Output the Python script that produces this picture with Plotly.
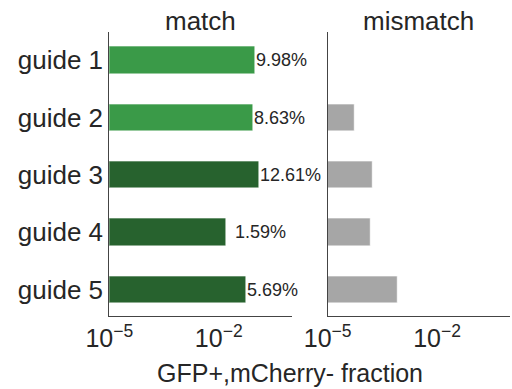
import math
import plotly.graph_objects as go

# Data
guides = ["guide 1", "guide 2", "guide 3", "guide 4", "guide 5"]
match_frac = [0.0998, 0.0863, 0.1261, 0.0159, 0.0569]
mismatch_frac = [None, 5.4e-5, 1.7e-4, 1.5e-4, 8.5e-4]
match_colors = ["#3a9a48", "#3a9a48", "#27622e", "#27622e", "#27622e"]
mismatch_color = "#a6a6a6"
label_shift = [-1, -1, -1, 7, -1]

W, H = 512, 389
FONT = "Liberation Sans, Arial, sans-serif"
TXT = "#262626"
ypos = list(range(len(guides)))

fig = go.Figure()
fig.add_trace(go.Bar(
    x=match_frac, y=ypos, orientation="h", width=0.48,
    marker=dict(color=match_colors, line=dict(color="white", width=0.8)),
    xaxis="x", yaxis="y", showlegend=False,
))
fig.add_trace(go.Bar(
    x=mismatch_frac, y=ypos, orientation="h", width=0.48,
    marker=dict(color=mismatch_color, line=dict(color="white", width=0.8)),
    xaxis="x2", yaxis="y2", showlegend=False,
))

# Percent labels next to the match bars
for yi, v, dx in zip(ypos, match_frac, label_shift):
    fig.add_annotation(
        x=math.log10(v), y=yi, xref="x", yref="y",
        text=f"{v * 100:.2f}%", showarrow=False, xanchor="left",
        xshift=dx, font=dict(family=FONT, size=18, color=TXT),
    )

def px_x(p):
    return p / W

def px_y(p):
    return 1 - p / H

tickvals = [1e-5, 1e-2]
ticktext = ["10<sup>\u22125</sup>", "10<sup>\u22122</sup>"]
xaxis_common = dict(
    type="log", range=[-5, 0], tickvals=tickvals, ticktext=ticktext,
    showgrid=False, zeroline=False, showline=True, linecolor="#444",
    linewidth=1, ticks="", automargin=False,
    tickfont=dict(family=FONT, size=25, color=TXT),
)
yr = [4.46, -0.49]
fig.update_layout(
    width=W, height=H, margin=dict(l=0, r=0, t=0, b=0),
    plot_bgcolor="white", paper_bgcolor="white",
    xaxis=dict(domain=[px_x(109.3), px_x(291.7)], anchor="y", **xaxis_common),
    xaxis2=dict(domain=[px_x(327.7), px_x(510)], anchor="y2", **xaxis_common),
    yaxis=dict(domain=[px_y(316), px_y(32.3)], range=yr, tickvals=ypos,
               ticktext=guides, showline=True, linecolor="#444", linewidth=1,
               showgrid=False, zeroline=False, ticks="", automargin=False,
               tickfont=dict(family=FONT, size=26, color=TXT), anchor="x"),
    yaxis2=dict(domain=[px_y(316), px_y(32.3)], range=yr, showticklabels=False,
                showline=True, linecolor="#444", linewidth=1, showgrid=False,
                zeroline=False, ticks="", automargin=False, anchor="x2"),
    bargap=0,
)

# Panel titles and shared x-axis title
for xc, t in [((109.3 + 291.7) / 2, "match"), ((327.7 + 510) / 2, "mismatch")]:
    fig.add_annotation(x=px_x(xc), y=px_y(21), xref="paper", yref="paper",
                       text=t, showarrow=False, xanchor="center", yanchor="middle",
                       font=dict(family=FONT, size=26, color=TXT))
fig.add_annotation(x=px_x(290), y=px_y(373), xref="paper", yref="paper",
                   text="GFP+,mCherry- fraction", showarrow=False,
                   xanchor="center", yanchor="middle",
                   font=dict(family=FONT, size=25, color=TXT))

fig.write_html("out.html")
